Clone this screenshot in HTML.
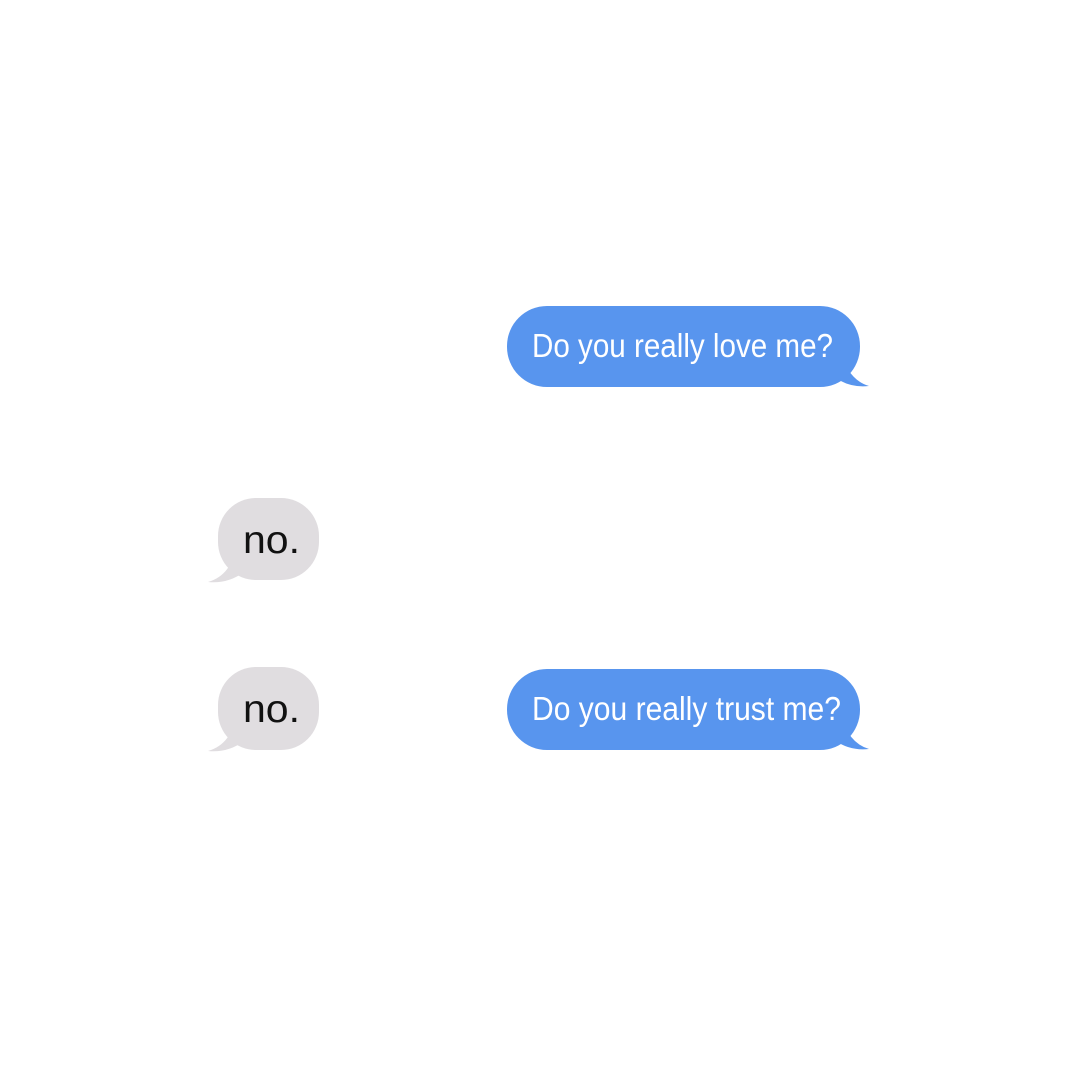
<!DOCTYPE html>
<html><head><style>html,body{margin:0;padding:0;background:#fff}</style></head>
<body>
<svg width="1080" height="1080" viewBox="0 0 1080 1080" xmlns="http://www.w3.org/2000/svg">
<rect width="1080" height="1080" fill="#fff"/>
<g fill="#5895ee">
  <rect x="507" y="306" width="353" height="81" rx="40"/>
  <path d="M840 350 Q848 380 869 386 Q850 388 836 378 Z"/>
  <rect x="507" y="669" width="353" height="81" rx="40"/>
  <path d="M840 713 Q848 743 869 749 Q850 751 836 741 Z"/>
</g>
<g fill="#e0dde0">
  <rect x="218" y="498" width="101" height="82" rx="38"/>
  <path d="M236 545 Q232 575 208 582 Q228 584 244 572 Z"/>
  <rect x="218" y="667" width="101" height="83" rx="38"/>
  <path d="M236 714 Q232 744 208 751 Q228 753 244 741 Z"/>
</g>
<g font-family="Liberation Sans, sans-serif">
  <text x="532" y="357" font-size="33" fill="#fff" textLength="301" lengthAdjust="spacingAndGlyphs">Do you really love me?</text>
  <text x="532" y="720" font-size="33" fill="#fff" textLength="309" lengthAdjust="spacingAndGlyphs">Do you really trust me?</text>
  <text x="243" y="553" font-size="39" fill="#111" textLength="57" lengthAdjust="spacingAndGlyphs">no.</text>
  <text x="243" y="722" font-size="39" fill="#111" textLength="57" lengthAdjust="spacingAndGlyphs">no.</text>
</g>
</svg>
</body></html>
